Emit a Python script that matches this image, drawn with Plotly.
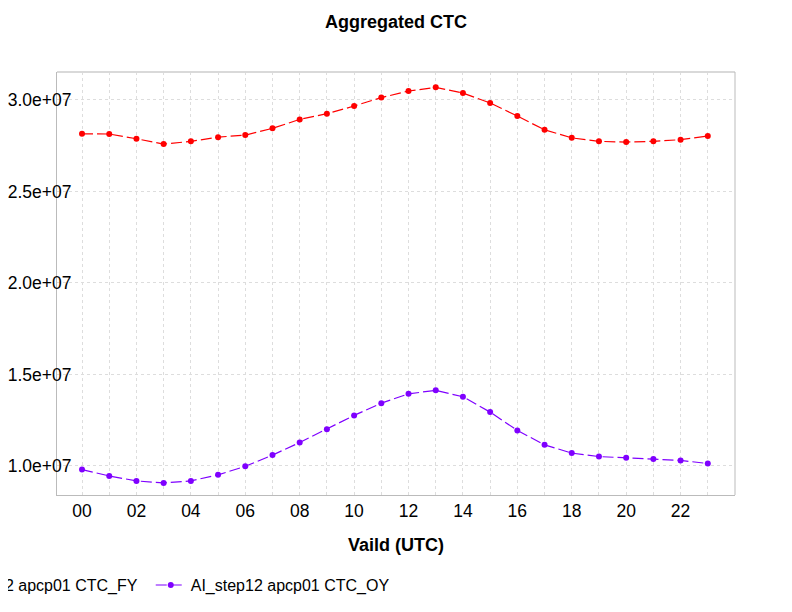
import plotly.graph_objects as go

hours = list(range(24))
fy_values = [2.815e7, 2.814e7, 2.788e7, 2.759e7, 2.774e7, 2.797e7, 2.808e7, 2.845e7,
             2.894e7, 2.925e7, 2.967e7, 3.013e7, 3.049e7, 3.069e7, 3.038e7, 2.984e7,
             2.912e7, 2.837e7, 2.793e7, 2.774e7, 2.770e7, 2.774e7, 2.783e7, 2.803e7]
oy_values = [0.980e7, 0.945e7, 0.918e7, 0.907e7, 0.918e7, 0.951e7, 0.998e7, 1.059e7,
             1.128e7, 1.201e7, 1.276e7, 1.343e7, 1.394e7, 1.413e7, 1.378e7, 1.294e7,
             1.194e7, 1.115e7, 1.070e7, 1.051e7, 1.044e7, 1.038e7, 1.030e7, 1.013e7]
series_names = ["AI_step12 apcp01 CTC_FY", "AI_step12 apcp01 CTC_OY"]
x_tickvals = list(range(0, 24, 2))
x_ticktext = ["%02d" % h for h in x_tickvals]
y_tickvals = [1.0e7, 1.5e7, 2.0e7, 2.5e7, 3.0e7]
y_ticktext = ["1.0e+07", "1.5e+07", "2.0e+07", "2.5e+07", "3.0e+07"]

FONT = "Liberation Sans, Arial, sans-serif"

fig = go.Figure()
fig.add_trace(go.Scatter(x=hours, y=fy_values, name=series_names[0], mode="lines+markers",
                         line=dict(color="#FF0000", width=1.2, dash="11px,4px"),
                         marker=dict(color="#FF0000", size=6)))
fig.add_trace(go.Scatter(x=hours, y=oy_values, name=series_names[1], mode="lines+markers",
                         line=dict(color="#7F00FF", width=1.2, dash="11px,4px"),
                         marker=dict(color="#7F00FF", size=6)))

fig.update_layout(
    width=792, height=612,
    paper_bgcolor="white", plot_bgcolor="white",
    margin=dict(l=49, r=65, t=64, b=125, autoexpand=False),
    font=dict(family=FONT, size=17.5, color="black"),
    title=dict(text="<b>Aggregated CTC</b>", xref="paper", x=0.5, xanchor="center",
               y=0.977, yanchor="middle", font=dict(size=18, family=FONT)),
    showlegend=True,
    legend=dict(orientation="h", x=-0.229, xanchor="left", y=-0.213, yanchor="middle",
                font=dict(size=16, family=FONT), bgcolor="rgba(0,0,0,0)",
                entrywidth=204, entrywidthmode="pixels"),
    xaxis=dict(range=[-0.92, 24.0], tickvals=x_tickvals, ticktext=x_ticktext,
               showgrid=True, gridcolor="#dddddd", griddash="dot", gridwidth=1,
               minor=dict(dtick=1, tick0=0, showgrid=True, gridcolor="#dddddd", griddash="dot", gridwidth=1),
               showline=True, linecolor="#bbbbbb", linewidth=1, mirror=False,
               ticks="", zeroline=False, tickfont=dict(size=17.5),
               title=dict(text="<b>Vaild (UTC)</b>", font=dict(size=18), standoff=18)),
    yaxis=dict(range=[0.841e7, 3.153e7], tickvals=y_tickvals, ticktext=y_ticktext,
               showgrid=True, gridcolor="#dddddd", griddash="dot", gridwidth=1,
               showline=True, linecolor="#bbbbbb", linewidth=1, mirror=False,
               ticks="", zeroline=False, tickfont=dict(size=17.5),
               ticklabelstandoff=-19),
)
# top and right frame lines
fig.add_shape(type="line", xref="paper", yref="paper", x0=0, x1=1, y0=1, y1=1,
              line=dict(color="#d9d9d9", width=2))
fig.add_shape(type="line", xref="paper", yref="paper", x0=1, x1=1, y0=0, y1=1,
              line=dict(color="#bbbbbb", width=1))

fig.write_html("out.html")
